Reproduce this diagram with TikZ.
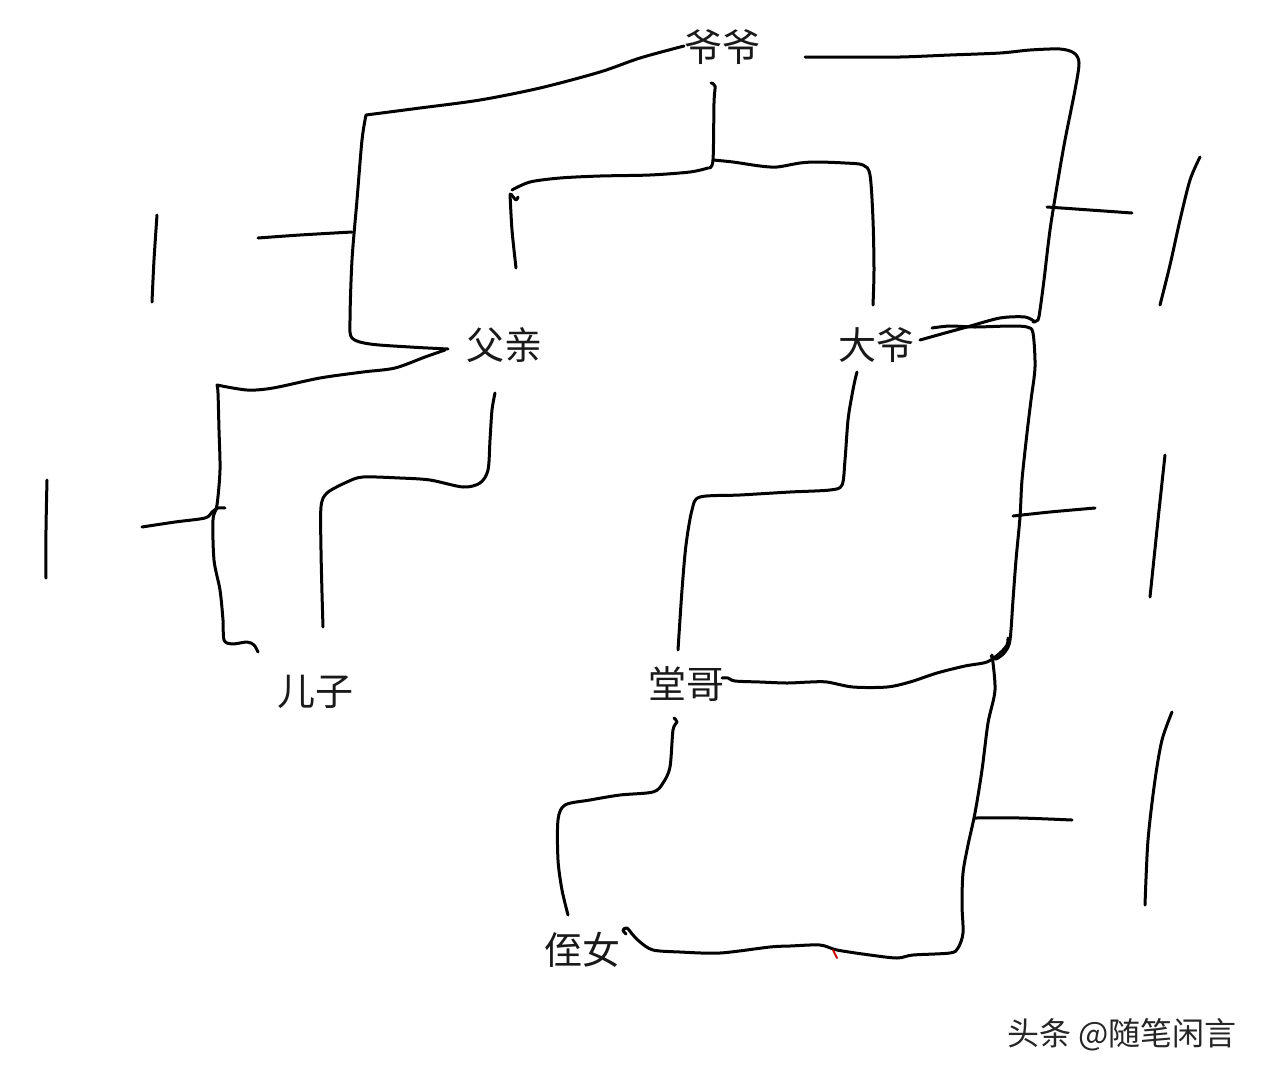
\documentclass[tikz,border=0pt]{standalone}
\usepackage{fontspec}
\newfontfamily\cjk{Noto Sans CJK SC}
\begin{document}
\begin{tikzpicture}[x=1pt,y=-1pt,
  ink/.style={line width=3pt,line cap=round,line join=round,black},
  lbl/.style={font=\cjk\fontsize{38}{38}\selectfont,inner sep=0pt,text=black!90},
  wmark/.style={font=\cjk\fontsize{32}{32}\selectfont,inner sep=0pt,text=black!85}]
\useasboundingbox[fill=white] (0,0) rectangle (1264,1080);
% labels
\node[lbl] (yeye) at (722,47) {爷爷};
\node[lbl] (fuqin) at (504,345) {父亲};
\node[lbl] (daye) at (876,345) {大爷};
\node[lbl] (erzi) at (315,692) {儿子};
\node[lbl] (tangge) at (686,684) {堂哥};
\node[lbl] (zhinv) at (582,950) {侄女};
\node[wmark,anchor=east] (wm) at (1237,1035) {头条 @随笔闲言};
% 爷爷 -> 父亲 bracket
\draw[ink] plot[smooth,tension=0.5] coordinates {(684,46) (640,58) (600,72) (540,88) (480,100) (420,108) (366,115)}
  -- plot[smooth,tension=0.5] coordinates {(366,115) (362,140) (357,200) (352,260) (350,320) (352,338) (370,344) (410,347) (448,349)};
% 父亲 -> 儿子 bracket
\draw[ink] plot[smooth,tension=0.5] coordinates {(445,350) (425,357) (395,368) (363,372) (320,378) (273,388) (247,390) (217,385)}
  -- plot[smooth,tension=0.5] coordinates {(217,385) (218,393) (219,430) (220,470) (217,505) (213,520) (214,560) (220,590) (223,620) (224,640) (232,644) (247,642) (254,645) (258,652)};
\draw[ink] plot[smooth,tension=0.5] coordinates {(142,527) (175,522) (205,518) (212,512) (218,508) (225,508)};
\draw[ink] plot[smooth,tension=0.5] coordinates {(495,393) (492,410) (490,440) (488,470) (480,483) (463,487) (430,480) (400,478) (363,477) (347,482) (327,493) (321,507) (321,550) (322,593) (323,627)};
% far-left marks
\draw[ink] plot[smooth,tension=0.5] coordinates {(47,480) (46,530) (46,578)};
\draw[ink] plot[smooth,tension=0.5] coordinates {(157,215) (154,260) (152,302)};
\draw[ink] plot[smooth,tension=0.5] coordinates {(258,238) (300,235) (352,232)};
% 爷爷 down and two branches
\draw[ink] plot[smooth,tension=0.5] coordinates {(711,83) (715,86) (714,103) (713,160) (709,168)};
\draw[ink] plot[smooth,tension=0.5] coordinates {(713,160) (733,162) (760,166) (777,167) (800,163) (817,162) (845,163) (863,165) (870,175) (873,220) (874,270) (873,305)};
\draw[ink] plot[smooth,tension=0.5] coordinates {(708,168) (690,172) (650,175) (600,176) (560,178) (530,182) (512,190)};
\draw[ink] plot[smooth,tension=0.5] coordinates {(511,194) (516,200) (518,197)};
\draw[ink] plot[smooth,tension=0.5] coordinates {(510,194) (512,230) (516,268)};
% 爷爷 right bracket
\draw[ink] plot[smooth,tension=0.5] coordinates {(805,57) (850,57) (900,57) (950,55) (1000,53) (1030,50) (1060,49) (1074,53) (1079,63) (1075,90) (1065,140) (1058,180) (1050,230) (1044,280) (1040,310) (1038,320) (1033,322)};
\draw[ink] plot[smooth,tension=0.5] coordinates {(1047,207) (1090,210) (1132,213)};
% 大爷 right crossing and down
\draw[ink] plot[smooth,tension=0.5] coordinates {(920,340) (945,333) (967,327) (1000,318) (1025,317) (1035,322)};
\draw[ink] plot[smooth,tension=0.5] coordinates {(932,328) (950,326) (975,327) (1010,326) (1027,327) (1033,333) (1035,367) (1031,400) (1027,433) (1022,480) (1020,517) (1016,560) (1013,600) (1010,640) (1005,652) (996,659) (991,656)};
\draw[ink] plot[smooth,tension=0.5] coordinates {(1013,516) (1050,512) (1095,508)};
% 大爷 -> 堂哥
\draw[ink] plot[smooth,tension=0.5] coordinates {(857,372) (855,380) (852,395) (848,420) (845,460) (842,485) (830,490) (790,492) (740,495) (700,497) (692,510) (686,545) (682,590) (678,650)};
% 堂哥 right
\draw[ink] plot[smooth,tension=0.5] coordinates {(722,678) (728,678) (735,681) (760,682) (787,683) (810,682) (827,682) (853,687) (887,687) (910,682) (937,673) (965,666) (987,662) (1000,653) (1007,645) (1008,638)};
\draw[ink] plot[smooth,tension=0.5] coordinates {(992,655) (995,690) (988,723) (982,770) (975,813) (968,845) (963,873) (962,905) (963,933) (958,948) (950,953) (913,955) (897,958) (870,955) (837,950) (820,945) (790,946) (770,947) (720,953) (680,952) (653,950) (640,942) (633,935) (627,928) (623,930) (626,934)};
\draw[ink] plot[smooth,tension=0.5] coordinates {(975,818) (1020,818) (1072,820)};
% 堂哥 -> 侄女
\draw[ink] plot[smooth,tension=0.5] coordinates {(674,718) (677,722) (673,730) (670,767) (663,783) (653,792) (620,795) (590,800) (565,805) (558,820) (558,860) (562,890) (568,915)};
% red tick
\draw[line width=1.8pt,red!80!black,line cap=round] (833,950) -- (837,958);
% right-most marks
\draw[ink] plot[smooth,tension=0.5] coordinates {(1200,157) (1190,180) (1180,220) (1170,265) (1160,305)};
\draw[ink] plot[smooth,tension=0.5] coordinates {(1165,455) (1158,520) (1150,597)};
\draw[ink] plot[smooth,tension=0.5] coordinates {(1172,712) (1162,740) (1155,780) (1148,840) (1145,905)};
\end{tikzpicture}
\end{document}
